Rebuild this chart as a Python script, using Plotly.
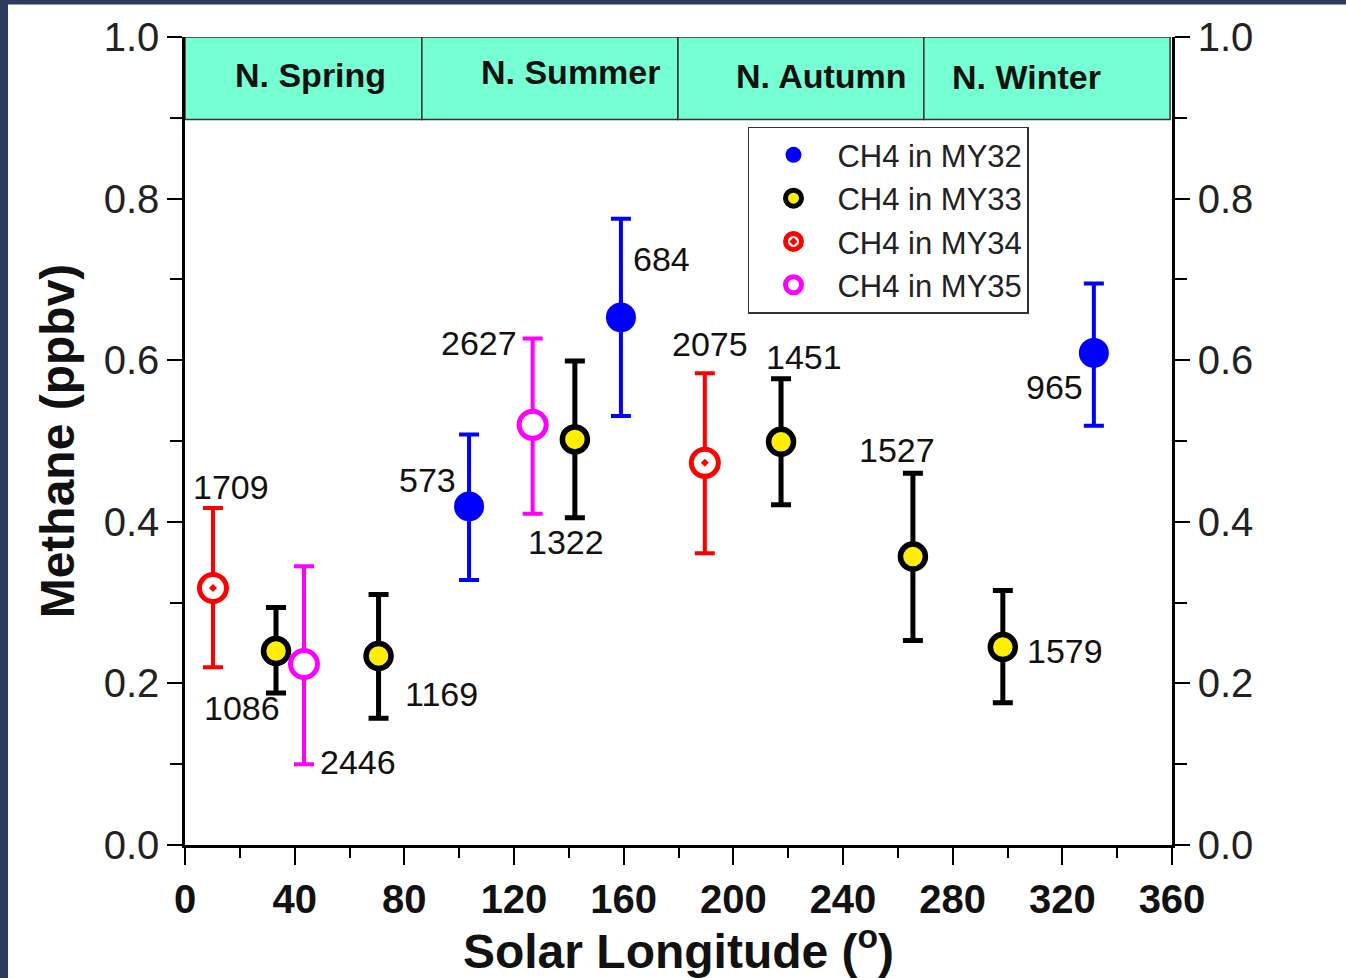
import plotly.graph_objects as go

# ---------------- data ----------------
my32_ls = [103.6, 159.0, 331.5]
my32_ch4 = [0.419, 0.653, 0.609]
my32_hi = [0.508, 0.775, 0.695]
my32_lo = [0.328, 0.531, 0.519]
my32_sol = ["573", "684", "965"]

my33_ls = [33.2, 70.6, 142.2, 217.4, 265.5, 298.3]
my33_ch4 = [0.240, 0.234, 0.502, 0.499, 0.357, 0.245]
my33_hi = [0.294, 0.310, 0.599, 0.577, 0.460, 0.315]
my33_lo = [0.188, 0.157, 0.405, 0.421, 0.253, 0.176]
my33_sol = ["1086", "1169", "1322", "1451", "1527", "1579"]

my34_ls = [10.2, 189.6]
my34_ch4 = [0.318, 0.473]
my34_hi = [0.417, 0.584]
my34_lo = [0.220, 0.361]
my34_sol = ["1709", "2075"]

my35_ls = [43.4, 126.8]
my35_ch4 = [0.224, 0.520]
my35_hi = [0.345, 0.627]
my35_lo = [0.100, 0.410]
my35_sol = ["2446", "2627"]

season_names = ["N. Spring", "N. Summer", "N. Autumn", "N. Winter"]
season_start = [0, 86.4, 179.8, 269.5]
season_end = [86.4, 179.8, 269.5, 359.3]

# label offsets (pixels: dx right, dy up) for sol labels
label_offset = {
    "1709": (18, 101), "1086": (-34, -57), "2446": (54, -98), "1169": (63, -38),
    "573": (-42, 26), "2627": (-54, 82), "1322": (-9, -103), "684": (41, 58),
    "2075": (5, 119), "1451": (23, 85), "1527": (-16, 107), "1579": (62, -4),
    "965": (-39, -34),
}
season_label_pos = [(45.6, 0.953), (140.8, 0.957), (232.0, 0.952), (307.0, 0.950)]

FONT = "Liberation Sans, Arial, sans-serif"

fig = go.Figure()

def add_series(name, xs, ys, hi, lo, marker, bar_color, bar_w):
    fig.add_trace(go.Scatter(
        x=xs, y=ys, mode="markers", name=name,
        marker=marker,
        error_y=dict(type="data", symmetric=False,
                     array=[h - v for h, v in zip(hi, ys)],
                     arrayminus=[v - l for v, l in zip(ys, lo)],
                     color=bar_color, thickness=bar_w, width=10),
    ))

add_series("CH4 in MY32", my32_ls, my32_ch4, my32_hi, my32_lo,
           dict(symbol="circle", size=30, color="#0000ff", line=dict(width=0)), "#0000ff", 4)
add_series("CH4 in MY33", my33_ls, my33_ch4, my33_hi, my33_lo,
           dict(symbol="circle", size=25, color="#ffee00", line=dict(width=5.5, color="black")), "black", 5)
add_series("CH4 in MY34", my34_ls, my34_ch4, my34_hi, my34_lo,
           dict(symbol="circle-dot", size=27, color="white", line=dict(width=5, color="#ff0000")), "#ff0000", 4)
add_series("CH4 in MY35", my35_ls, my35_ch4, my35_hi, my35_lo,
           dict(symbol="circle", size=27, color="white", line=dict(width=5, color="#ff00ff")), "#ff00ff", 4)

# invisible trace to activate the right-hand axis
fig.add_trace(go.Scatter(x=[0], y=[0], yaxis="y2", mode="markers",
                         marker=dict(opacity=0), showlegend=False, hoverinfo="skip"))

annotations = []
for xs, ys, labs in [(my32_ls, my32_ch4, my32_sol), (my33_ls, my33_ch4, my33_sol),
                     (my34_ls, my34_ch4, my34_sol), (my35_ls, my35_ch4, my35_sol)]:
    for x, y, t in zip(xs, ys, labs):
        dx, dy = label_offset[t]
        annotations.append(dict(x=x, y=y, xref="x", yref="y", text=t, showarrow=False,
                                xshift=dx, yshift=dy,
                                font=dict(family=FONT, size=34, color="#111111")))

shapes = []
for s0, s1 in zip(season_start, season_end):
    shapes.append(dict(type="rect", xref="x", yref="y", x0=s0, x1=s1, y0=0.898, y1=1.0,
                       fillcolor="#76ffd2", line=dict(color="#333333", width=1.5), layer="below"))
for name, (px, py) in zip(season_names, season_label_pos):
    annotations.append(dict(x=px, y=py, xref="x", yref="y", text=name, showarrow=False,
                            font=dict(family=FONT, size=34, color="#111111", weight="bold")))

# navy frame strips (left and top edges of the picture)
shapes.append(dict(type="rect", xref="paper", yref="paper", x0=-0.2, x1=-0.1793, y0=-0.2, y1=1.1,
                   fillcolor="#2d3c5e", line=dict(width=0), layer="above"))
shapes.append(dict(type="rect", xref="paper", yref="paper", x0=-0.2, x1=1.2, y0=1.0403, y1=1.1,
                   fillcolor="#2d3c5e", line=dict(width=0), layer="above"))

axis_common = dict(showline=True, linecolor="black", linewidth=2.5, ticks="outside",
                   tickcolor="black", tickwidth=2, showgrid=False, zeroline=False)

fig.update_layout(
    width=1346, height=978,
    margin=dict(l=185, r=174, t=37, b=128),
    paper_bgcolor="white", plot_bgcolor="white",
    font=dict(family=FONT, color="#222222"),
    xaxis=dict(range=[0, 360], dtick=40, tick0=0, ticklen=17,
               minor=dict(dtick=20, ticklen=10, tickwidth=2, tickcolor="black", ticks="outside"),
               tickfont=dict(family=FONT, size=40, color="#111111", weight="bold"),
               title=dict(text="Solar Longitude (<sup>o</sup>)", standoff=12,
                          font=dict(family=FONT, size=48, color="#111111", weight="bold")),
               **axis_common),
    yaxis=dict(range=[0, 1], dtick=0.2, tick0=0, tickformat=".1f", ticklen=15,
               minor=dict(dtick=0.1, ticklen=12, tickwidth=2, tickcolor="black", ticks="outside"),
               tickfont=dict(family=FONT, size=40, color="#222222"),
               title=dict(text="Methane (ppbv)", standoff=14,
                          font=dict(family=FONT, size=48, color="#111111", weight="bold")),
               **axis_common),
    yaxis2=dict(range=[0, 1], dtick=0.2, tick0=0, tickformat=".1f", ticklen=15,
                overlaying="y", side="right",
                minor=dict(dtick=0.1, ticklen=12, tickwidth=2, tickcolor="black", ticks="outside"),
                tickfont=dict(family=FONT, size=40, color="#222222"),
                **axis_common),
    legend=dict(x=0.5704, y=0.889, xanchor="left", yanchor="top",
                bgcolor="white", bordercolor="#333333", borderwidth=1.5,
                font=dict(family=FONT, size=31, color="#222222"),
                itemwidth=78, tracegroupgap=0),
    annotations=annotations,
    shapes=shapes,
    showlegend=True,
)

fig.write_html("out.html", config={"displayModeBar": False},
               post_script="document.body.style.margin='0px';document.body.style.overflow='hidden';")
